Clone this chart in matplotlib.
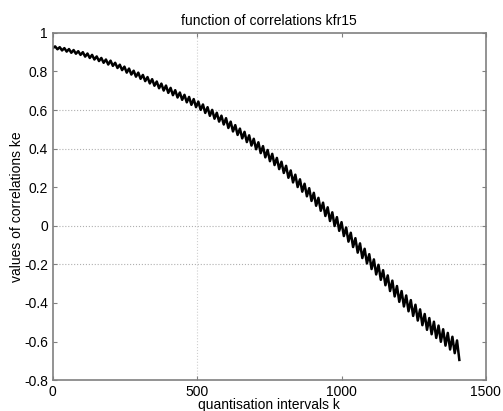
import numpy as np
import matplotlib
matplotlib.use("Agg")
import matplotlib.pyplot as plt

plt.rcParams['font.family'] = ['Liberation Sans', 'DejaVu Sans']

# quantisation intervals (sampled every 8 -> alternating trough / peak)
k = np.arange(0, 1409, 8)

# values of correlations ke
ke = [
    0.921, 0.930, 0.915, 0.926, 0.909, 0.921, 0.903, 0.916, 0.897, 0.911, 0.892, 0.905, 0.886,
    0.900, 0.877, 0.893, 0.870, 0.886, 0.862, 0.878, 0.854, 0.870, 0.845, 0.862, 0.836,
    0.856, 0.829, 0.845, 0.818, 0.835, 0.807, 0.825, 0.794, 0.815, 0.784, 0.804, 0.773, 0.794,
    0.762, 0.782, 0.750, 0.771, 0.738, 0.760, 0.726, 0.748, 0.713, 0.737, 0.701, 0.727,
    0.689, 0.715, 0.677, 0.703, 0.665, 0.691, 0.653, 0.679, 0.640, 0.668, 0.627, 0.657, 0.615,
    0.644, 0.601, 0.629, 0.585, 0.615, 0.570, 0.601, 0.555, 0.586, 0.540, 0.571, 0.525,
    0.558, 0.507, 0.540, 0.489, 0.522, 0.471, 0.504, 0.453, 0.487, 0.434, 0.469, 0.416, 0.451,
    0.397, 0.433, 0.377, 0.413, 0.355, 0.393, 0.335, 0.373, 0.315, 0.352, 0.294, 0.332,
    0.274, 0.311, 0.249, 0.287, 0.225, 0.265, 0.201, 0.241, 0.177, 0.218, 0.153, 0.195, 0.129,
    0.171, 0.104, 0.145, 0.078, 0.120, 0.051, 0.096, 0.025, 0.070, -0.001, 0.045, -0.026,
    0.019, -0.053, -0.009, -0.082, -0.036, -0.110, -0.064, -0.139, -0.091, -0.167, -0.119, -0.195, -0.147,
    -0.224, -0.174, -0.252, -0.202, -0.280, -0.230, -0.308, -0.257, -0.338, -0.284, -0.366, -0.312,
    -0.394, -0.338, -0.418, -0.361, -0.443, -0.385, -0.467, -0.409, -0.491, -0.433, -0.515, -0.457, -0.539,
    -0.478, -0.562, -0.497, -0.581, -0.517, -0.601, -0.536, -0.621, -0.555, -0.641, -0.575, -0.660, -0.594,
    -0.695,
]

xticks = [0, 500, 1000, 1500]
yticks = [-0.8, -0.6, -0.4, -0.2, 0, 0.2, 0.4, 0.6, 0.8, 1]
ytick_labels = ['-0.8', '-0.6', '-0.4', '-0.2', '0', '0.2', '0.4', '0.6', '0.8', '1']

fig = plt.figure(figsize=(5.03, 4.11), dpi=100)
ax = fig.add_axes([0.105, 0.075, 0.861, 0.845])

# faint dotted grid, only the lines that survive in the original
for gy in [0.6, 0.4, 0, -0.2]:
    ax.axhline(gy, color='#b0b0b0', linestyle=':', linewidth=0.8, zorder=0)
ax.axvline(500, color='#d0d0d0', linestyle=':', linewidth=0.8, zorder=0)

ax.plot(k, ke, color='black', linewidth=1.8)

ax.set_xlim(0, 1500)
ax.set_ylim(-0.8, 1)
ax.set_xticks(xticks)
ax.set_yticks(yticks)
ax.set_yticklabels(ytick_labels)
ax.tick_params(direction='in', length=3, top=True, right=True,
               labelsize=10, colors='#808080', labelcolor='black')
for s in ax.spines.values():
    s.set_color('#808080')
    s.set_linewidth(1.2)

ax.set_title('function of correlations kfr15', fontsize=10, pad=6)
ax.set_xlabel('quantisation intervals k', fontsize=10, labelpad=-1)
ax.set_ylabel('values of correlations ke', fontsize=10, labelpad=0)

fig.savefig('out.png', dpi=100)
